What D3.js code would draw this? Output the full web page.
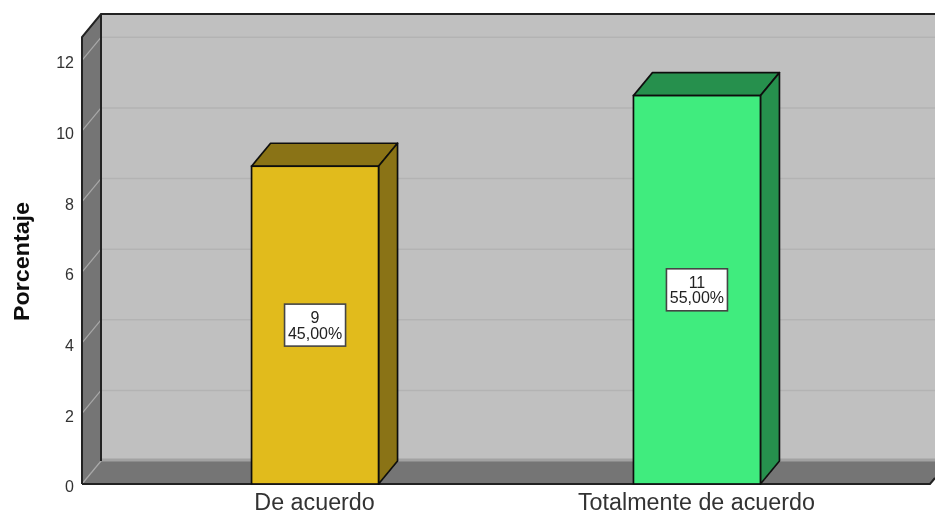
<!DOCTYPE html>
<html>
<head>
<meta charset="utf-8">
<script src="https://cdn.jsdelivr.net/npm/d3@7"></script>
<style>
html, body { margin: 0; padding: 0; background: #fff; }
svg { display: block; }
text { font-family: "Liberation Sans", Arial, sans-serif; }
</style>
</head>
<body>
<svg id="chart" width="935" height="518"></svg>
<script>
var categories = ["De acuerdo", "Totalmente de acuerdo"];
var counts = [9, 11];
var percents = ["45,00%", "55,00%"];
var tickValues = [0, 2, 4, 6, 8, 10, 12];
var colors = ["#e1bb1c", "#40ec7e"];
var sideColors = ["#8a7312", "#27904e"];

var root = d3.select("#chart");

// the reference is a slightly soft screenshot
root.append("defs").append("filter")
  .attr("id", "soft")
  .attr("filterUnits", "userSpaceOnUse")
  .attr("x", 0).attr("y", 0).attr("width", 935).attr("height", 518)
  .append("feGaussianBlur").attr("stdDeviation", 0.4);

var svg = root.append("g").attr("filter", "url(#soft)");

// plot area, front plane. dx/dy is the fake 3d depth
var plotL = 82, plotR = 930, plotB = 484, plotT = 37;
var dx = 19, dy = 23;

var y = d3.scaleLinear().domain([0, 12.66]).range([plotB, plotT]);
var x = d3.scaleBand().domain(categories).range([plotL, plotR])
  .paddingInner(0.6675).paddingOuter(0.444);

function pts(a) { return a.map(function(p) { return p.join(","); }).join(" "); }

// white under everything so the blur has something to mix with
svg.append("rect").attr("width", 935).attr("height", 518).style("fill", "#fff");

// back wall
svg.append("rect")
  .attr("x", plotL + dx).attr("y", plotT - dy)
  .attr("width", 935 - plotL - dx).attr("height", plotB - plotT)
  .style("fill", "#c0c0c0");

// left wall
svg.append("polygon")
  .attr("points", pts([[plotL, plotT], [plotL + dx, plotT - dy], [plotL + dx, plotB - dy], [plotL, plotB]]))
  .style("fill", "#757575");

// floor
svg.append("polygon")
  .attr("points", pts([[plotL, plotB], [plotL + dx, plotB - dy], [plotR + dx, plotB - dy], [plotR, plotB]]))
  .style("fill", "#757575");

// grid lines, wall part and back part
var grid = svg.append("g");
grid.selectAll("line.back")
  .data(tickValues.filter(function(d) { return d > 0; }))
  .enter().append("line")
  .attr("class", "back")
  .attr("x1", plotL + dx).attr("x2", 935)
  .attr("y1", function(d) { return y(d) - dy; })
  .attr("y2", function(d) { return y(d) - dy; })
  .style("stroke", "#b3b3b3").style("stroke-width", 1.5);
grid.selectAll("line.wall")
  .data(tickValues)
  .enter().append("line")
  .attr("class", "wall")
  .attr("x1", plotL).attr("x2", plotL + dx)
  .attr("y1", function(d) { return y(d); })
  .attr("y2", function(d) { return y(d) - dy; })
  .style("stroke", "#a8a8a8").style("stroke-width", 1.2);

// light strip where wall meets floor
svg.append("line")
  .attr("x1", plotL + dx).attr("x2", 935)
  .attr("y1", plotB - dy - 1).attr("y2", plotB - dy - 1)
  .style("stroke", "#a2a2a2").style("stroke-width", 3);

// frame
var frame = svg.append("g").style("stroke", "#222").style("fill", "none");
frame.append("path").attr("d", "M" + plotL + "," + plotB + "V" + plotT + "L" + (plotL + dx) + "," + (plotT - dy) + "H935")
  .style("stroke-width", 2);
frame.append("line")
  .attr("x1", plotL + dx).attr("x2", plotL + dx)
  .attr("y1", plotT - dy).attr("y2", plotB - dy)
  .style("stroke-width", 2);
frame.append("path").attr("d", "M" + plotL + "," + plotB + "H" + plotR + "L935," + (plotB - 6))
  .style("stroke-width", 2);

// bars
var bars = svg.selectAll("g.bar")
  .data(categories)
  .enter().append("g").attr("class", "bar");

function barX(i) { return x(categories[i]); }
function barY(i) { return y(counts[i]); }

bars.append("polygon")
  .attr("points", function(d, i) {
    var x0 = barX(i), x1 = x0 + x.bandwidth(), yt = barY(i);
    return pts([[x0, yt], [x0 + dx, yt - dy], [x1 + dx, yt - dy], [x1, yt]]);
  })
  .style("fill", function(d, i) { return sideColors[i]; })
  .style("stroke", "#111").style("stroke-width", 1.7).style("stroke-linejoin", "round");

bars.append("polygon")
  .attr("points", function(d, i) {
    var x1 = barX(i) + x.bandwidth(), yt = barY(i);
    return pts([[x1, yt], [x1 + dx, yt - dy], [x1 + dx, plotB - dy], [x1, plotB]]);
  })
  .style("fill", function(d, i) { return sideColors[i]; })
  .style("stroke", "#111").style("stroke-width", 1.7).style("stroke-linejoin", "round");

bars.append("rect")
  .attr("x", function(d, i) { return barX(i); })
  .attr("y", function(d, i) { return barY(i); })
  .attr("width", x.bandwidth())
  .attr("height", function(d, i) { return plotB - barY(i); })
  .style("fill", function(d, i) { return colors[i]; })
  .style("stroke", "#111").style("stroke-width", 1.7);

// value boxes in the middle of each bar
bars.append("rect")
  .attr("x", function(d, i) { return barX(i) + x.bandwidth() / 2 - 30.5; })
  .attr("y", function(d, i) { return y(counts[i] / 2) - 21; })
  .attr("width", 61).attr("height", 42)
  .style("fill", "#fff").style("stroke", "#444").style("stroke-width", 1.6);

bars.append("text")
  .attr("x", function(d, i) { return barX(i) + x.bandwidth() / 2; })
  .attr("y", function(d, i) { return y(counts[i] / 2) - 2; })
  .attr("text-anchor", "middle")
  .style("font-size", "16px").style("fill", "#222")
  .text(function(d, i) { return counts[i]; });

bars.append("text")
  .attr("x", function(d, i) { return barX(i) + x.bandwidth() / 2; })
  .attr("y", function(d, i) { return y(counts[i] / 2) + 13.5; })
  .attr("text-anchor", "middle")
  .style("font-size", "16px").style("fill", "#222")
  .text(function(d, i) { return percents[i]; });

// y axis, labels sit a little under their ticks in the original
var yAxis = d3.axisLeft(y).tickValues(tickValues).tickSize(0).tickPadding(8);
var gy = svg.append("g").attr("transform", "translate(" + plotL + ",2.5)").call(yAxis);
gy.select(".domain").remove();
gy.selectAll("text").style("font-size", "16px").style("font-family", "Liberation Sans").style("fill", "#333");

// x axis
var xAxis = d3.axisBottom(x).tickSize(0).tickPadding(9);
var gx = svg.append("g").attr("transform", "translate(-0.5," + plotB + ")").call(xAxis);
gx.select(".domain").remove();
gx.selectAll("text").style("font-size", "23.3px").style("font-family", "Liberation Sans").style("fill", "#333");

// y title, stretched along its length like the original
svg.append("text")
  .attr("transform", "translate(29,261.5) rotate(-90)")
  .attr("text-anchor", "middle")
  .attr("textLength", 119).attr("lengthAdjust", "spacingAndGlyphs")
  .style("font-size", "21.5px").style("font-weight", "bold").style("fill", "#111")
  .text("Porcentaje");
</script>
</body>
</html>
